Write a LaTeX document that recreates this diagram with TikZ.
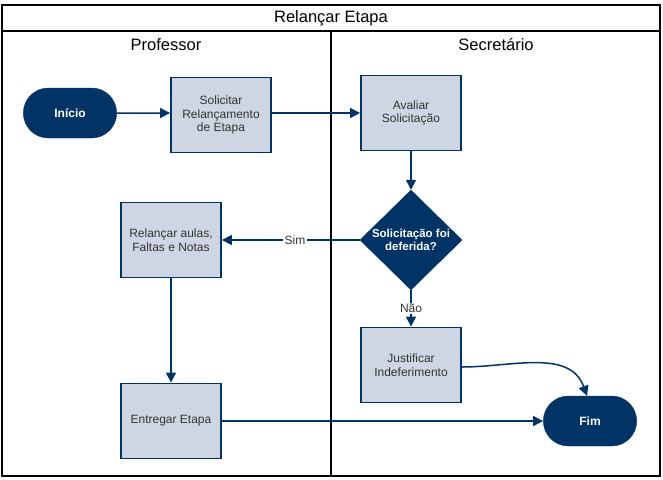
\documentclass[tikz,border=0pt]{standalone}
\usepackage{fontspec}
\setmainfont{Liberation Sans}
\usepackage{tikz}
\usetikzlibrary{shapes.geometric, shapes.misc, arrows.meta, positioning}
\usepackage{xcolor}
\definecolor{azul}{RGB}{0,51,102}
\definecolor{cinza}{RGB}{206,214,227}
\tikzstyle{terminal} = [rounded rectangle, minimum width=100pt, minimum height=50pt, text centered, draw=azul, fill=azul, text=white, font=\fontsize{12}{14}\selectfont\bfseries]
\tikzstyle{processo} = [rectangle, minimum width=100pt, minimum height=75pt, text centered, draw=azul, line width=1.8pt, fill=cinza, text=black!80, align=center, font=\fontsize{12}{13.5}\selectfont]
\tikzstyle{decisao} = [diamond, minimum width=102pt, minimum height=100pt, inner sep=-3pt, text centered, draw=azul, fill=azul, text=white, align=center, font=\fontsize{11.5}{13.5}\selectfont\bfseries]
\tikzstyle{seta} = [line width=1.5pt, draw=azul, -{Triangle[length=10pt,width=10pt]}]
\tikzstyle{rotulo} = [fill=white, inner sep=1.5pt, text=black!80, font=\fontsize{12}{14}\selectfont]
\tikzstyle{moldura} = [line width=1.5pt, draw=black]
\tikzstyle{cabecalho} = [font=\fontsize{16.5}{18}\selectfont, text=black]

\begin{document}
\begin{tikzpicture}[node distance=125pt]
\useasboundingbox (0,0) rectangle (663pt,-479pt);

% raias
\draw [moldura] (2pt,-5pt) rectangle (660pt,-476pt);
\draw [moldura] (2pt,-31pt) -- (660pt,-31pt);
\draw [moldura] (331pt,-31pt) -- (331pt,-476pt);
\node (titulo) [cabecalho] at (331pt,-18pt) {Relançar Etapa};
\node (professor) [cabecalho] at (166pt,-45pt) {Professor};
\node (secretario) [cabecalho] at (496pt,-45pt) {Secretário};

\node (inicio) [terminal] at (70pt,-113pt) {Início};
\node (solicitar) [processo, right of=inicio, xshift=26pt, yshift=-2pt] {Solicitar\\Relançamento\\de Etapa};
\node (avaliar) [processo, right of=solicitar, xshift=65pt, yshift=2pt] {Avaliar\\Solicitação};
\node (deferida) [decisao, below of=avaliar, yshift=-2pt] {Solicitação foi\\deferida?};
\node (justificar) [processo, below of=deferida] {Justificar\\Indeferimento};
\node (relancar) [processo, left of=deferida, xshift=-115pt] {Relançar aulas,\\Faltas e Notas};
\node (entregar) [processo, below of=relancar, yshift=-56pt] {Entregar Etapa};
\node (fim) [terminal, right of=entregar, xshift=294pt] {Fim};

\draw [seta] (inicio) -- (solicitar.west |- inicio);
\draw [seta] (solicitar.east |- avaliar) -- (avaliar);
\draw [seta] (avaliar) -- (deferida);
\draw [seta] (deferida) -- node[rotulo, pos=0.47] {Sim} (relancar);
\draw [seta] (deferida) -- node[rotulo] {Não} (justificar);
\draw [seta] (relancar) -- (entregar);
\draw [seta] (entregar) -- (fim);
\draw [seta] ([yshift=-2pt]justificar.east) to[out=0, in=110] ([xshift=-3pt]fim.north);

\end{tikzpicture}
\end{document}
